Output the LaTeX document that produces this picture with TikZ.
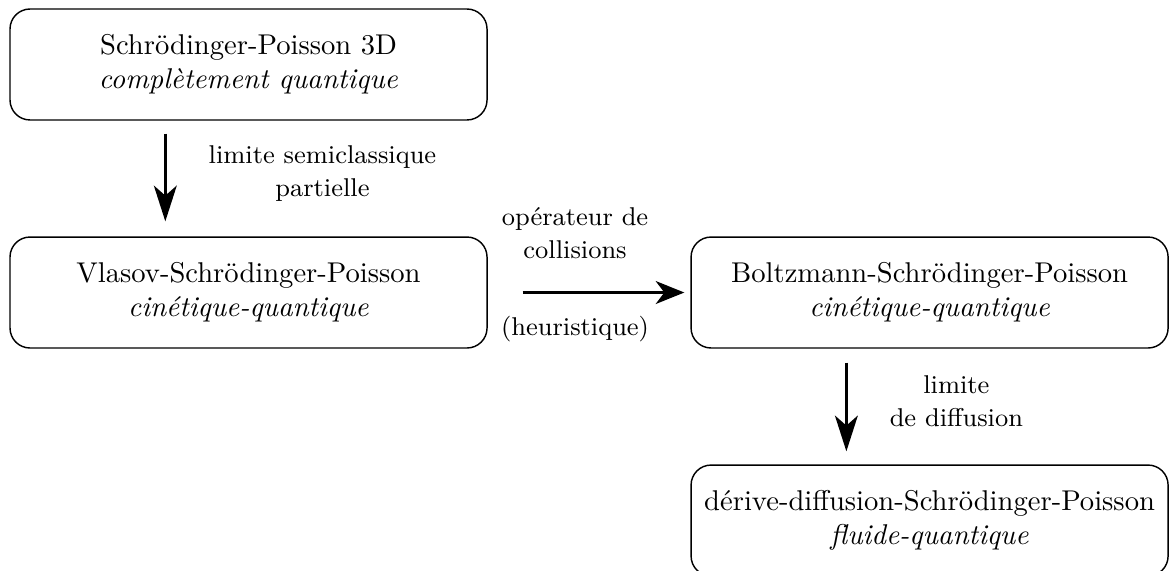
\documentclass[tikz,border=0pt]{standalone}
\usepackage{amsmath, amssymb}
\usetikzlibrary{arrows.meta}

\tikzset{
  model/.style={draw, line width=0.5pt, rounded corners=7pt, minimum width=5.864cm,
    minimum height=1.364cm, align=center, inner sep=0pt},
  flow/.style={line width=1pt, -{Stealth[length=12.5pt, width=8pt, inset=3.5pt]}},
  lbl/.style={align=center, inner sep=0pt, font=\fontsize{9}{11.5}\selectfont}
}

\begin{document}
\begin{tikzpicture}
    \useasboundingbox (0,0) rectangle (14.456,7.007);
    \node[model] (sp3d) at (3.055,6.214) {Schr\"odinger-Poisson 3D\\ \textit{compl\`etement quantique}};
    \node[model] (vsp) at (3.055,3.411) {Vlasov-Schr\"odinger-Poisson\\ \textit{cin\'etique-quantique}};
    \node[model] (bsp) at (11.427,3.411) {Boltzmann-Schr\"odinger-Poisson\\ \textit{cin\'etique-quantique}};
    \node[model] (ddsp) at (11.427,0.608) {d\'erive-diffusion-Schr\"odinger-Poisson\\ \textit{fluide-quantique}};
    \draw[flow, shorten <=0.160cm, shorten >=0.184cm] ([xshift=1.918cm]sp3d.south west) -- ([xshift=1.918cm]vsp.north west)
      node[midway, right, lbl, xshift=0.516cm, yshift=0.06cm] {limite semiclassique\\ partielle};
    \draw[flow, -{Stealth[length=10pt, width=8pt, inset=3pt]}, shorten <=0.430cm, shorten >=0.074cm] (vsp.east) -- (bsp.west)
      node[midway, above, lbl, xshift=-0.172cm, yshift=0.40cm] {op\'erateur de\\ collisions}
      node[midway, below, lbl, xshift=-0.172cm, yshift=-0.27cm] {(heuristique)};
    \draw[flow, shorten <=0.172cm, shorten >=0.160cm] ([xshift=1.918cm]bsp.south west) -- ([xshift=1.918cm]ddsp.north west)
      node[midway, right, lbl, xshift=0.516cm, yshift=0.06cm] {limite\\ de diffusion};
  \end{tikzpicture}
\end{document}
